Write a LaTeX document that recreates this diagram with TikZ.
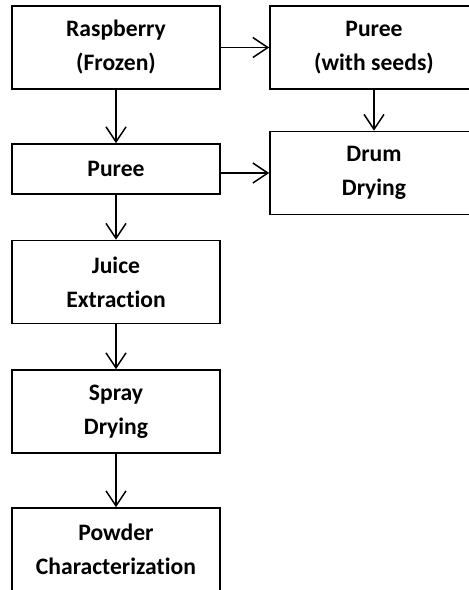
\documentclass[tikz,border=0pt]{standalone}
\usepackage{fontspec}
\setmainfont[Ligatures=NoCommon]{Carlito}
\usetikzlibrary{arrows.meta,positioning}

\begin{document}
\begin{tikzpicture}[x=0.5pt,y=-0.5pt,line width=0.75pt,
step box/.style={rectangle,draw=black,line width=0.8pt,align=center,
inner sep=0pt,minimum width=104pt,minimum height=41.5pt,
font=\fontsize{11.8}{17}\selectfont\bfseries},
flow/.style={-{Straight Barb[length=7.5pt,width=10pt,line width=0.75pt]}}]
    \useasboundingbox (0,0) rectangle (468,590);
    \node[step box] (rasp) at (116,47.5) {Raspberry\\(Frozen)};
    \node[step box] (seeds) at (374,47.5) {Puree\\(with seeds)};
    \node[step box,minimum height=25pt] (puree) at (116,169) {Puree};
    \node[step box] (drum) at (374,173) {Drum\\Drying};
    \node[step box] (juice) at (116,282) {Juice\\Extraction};
    \node[step box] (spray) at (116,411.5) {Spray\\Drying};
    \node[step box] (powder) at (116,549.5) {Powder\\Characterization};
    \draw[flow] (rasp) to (seeds);
    \draw[flow] (rasp) to (puree);
    \draw[flow] (seeds) to (drum);
    \draw[flow] (puree.east |- drum.west) to (drum.west);
    \draw[flow] (puree) to (juice);
    \draw[flow] (juice) to (spray);
    \draw[flow] (spray) to (powder);
\end{tikzpicture}
\end{document}
